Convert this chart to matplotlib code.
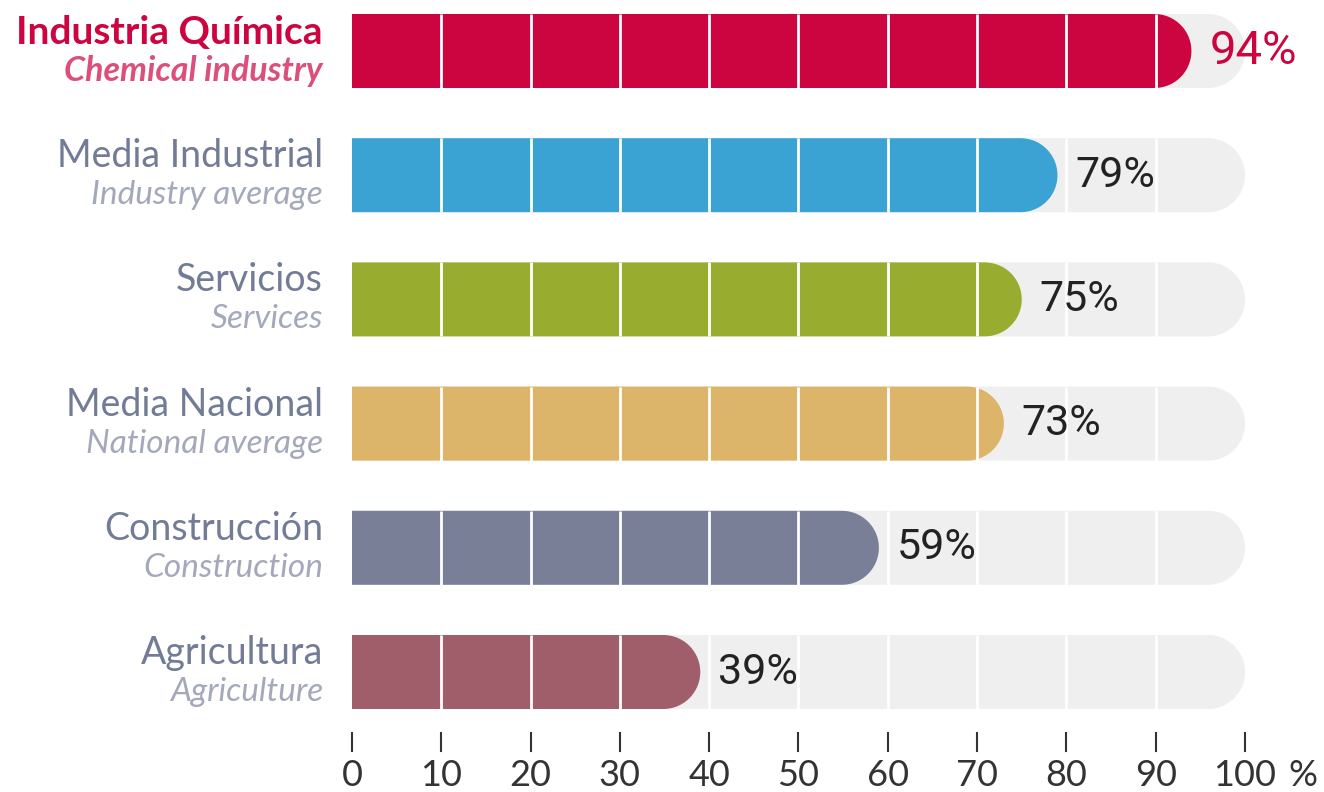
import numpy as np
import matplotlib.pyplot as plt

# datos
sectores_es = ["Industria Química", "Media Industrial", "Servicios", "Media Nacional", "Construcción", "Agricultura"]
sectores_en = ["Chemical industry", "Industry average", "Services", "National average", "Construction", "Agriculture"]
valores = [94, 79, 75, 73, 59, 39]
colores = ["#CC0440", "#3AA3D3", "#98AD2F", "#DCB46A", "#787F97", "#A05E6A"]
ticks = [0, 10, 20, 30, 40, 50, 60, 70, 80, 90, 100]

W, H = 1324, 792
ppu = 8.93  # pixeles por unidad
x0 = 352

fig = plt.figure(figsize=(W/100, H/100), dpi=100)
ax = fig.add_axes([0, 0, 1, 1])
ax.set_xlim(-x0/ppu, (W-x0)/ppu)
ax.set_ylim(H/ppu, 0)
ax.set_aspect('equal')
ax.axis('off')

alto = 74/ppu
r = alto/2
fuente = ['Lato', 'DejaVu Sans']
narrow = ['Liberation Sans Narrow', 'Roboto', 'DejaVu Sans']

def barra(ax, v, yc, color):
    th = np.linspace(-np.pi/2, np.pi/2, 60)
    xs = np.concatenate([[0], v - r + r*np.cos(th), [0]])
    ys = np.concatenate([[yc - r], yc + r*np.sin(th), [yc + r]])
    ax.fill(xs, ys, color=color, lw=0)

for i in range(len(valores)):
    yc = (51 + 124.2*i)/ppu
    barra(ax, 100, yc, "#EFEFEF")
    barra(ax, valores[i], yc, colores[i])
    for t in ticks[1:-1]:
        ax.plot([t, t], [yc-r, yc+r], color='white', lw=2, solid_capstyle='butt')
    if i == 0:
        c1, c2, w1 = "#CC0440", "#DC4F7A", 'bold'
        s1, s2, sv = 28, 24.5, 34
        cv = "#CC0440"
    else:
        c1, c2, w1 = "#737C96", "#A3A9BB", 'normal'
        s1, s2, sv = 27, 24, 31
        cv = "#222222"
    ax.text(-29/ppu, yc - 19/ppu, sectores_es[i], ha='right', va='center', fontsize=s1,
            color=c1, fontweight=w1, family=fuente)
    ax.text(-29/ppu, yc + 20/ppu, sectores_en[i], ha='right', va='center', fontsize=s2,
            color=c2, fontweight=w1, style='italic', family=fuente)
    ax.text(valores[i] + 2.0, yc, f"{valores[i]}%", ha='left', va='center', fontsize=sv,
            color=cv, family=narrow)

ybase = 733/ppu
for t in ticks:
    ax.plot([t, t], [ybase, 751/ppu], color='#333333', lw=1.5)
    ax.text(t, 776/ppu, str(t), ha='center', va='center', fontsize=26, color='#333333',
            family=fuente)
ax.text(1303/ppu - x0/ppu, 776/ppu, "%", ha='center', va='center', fontsize=26,
        color='#333333', family=fuente)

fig.savefig("out.png", dpi=100)
